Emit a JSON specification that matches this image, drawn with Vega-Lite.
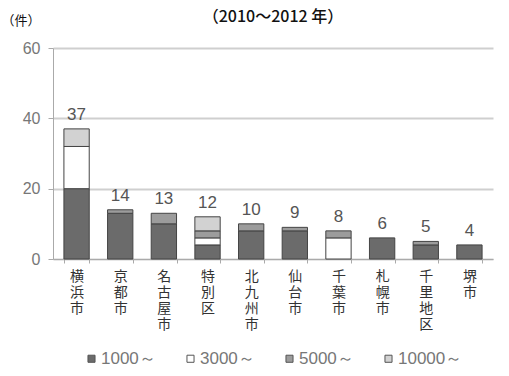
{
  "$schema": "https://vega.github.io/schema/vega-lite/v6.json",
  "autosize": "none",
  "width": 440,
  "height": 211,
  "padding": {"left": 53, "top": 48, "right": 16, "bottom": 117},
  "background": "white",
  "title": {"text": "（2010～2012 年）", "fontSize": 16, "font": "Noto Sans CJK JP", "fontWeight": 500, "color": "#111", "anchor": "middle", "offset": -11},
  "config": {"view": {"stroke": null}, "font": "Noto Sans CJK JP"},
  "data": {"values": [
    {"city": "横浜市", "cat": "1000～", "n": 20, "o": 1},
    {"city": "横浜市", "cat": "3000～", "n": 12, "o": 2},
    {"city": "横浜市", "cat": "5000～", "n": 0, "o": 3},
    {"city": "横浜市", "cat": "10000～", "n": 5, "o": 4},
    {"city": "京都市", "cat": "1000～", "n": 13, "o": 1},
    {"city": "京都市", "cat": "5000～", "n": 1, "o": 3},
    {"city": "名古屋市", "cat": "1000～", "n": 10, "o": 1},
    {"city": "名古屋市", "cat": "5000～", "n": 3, "o": 3},
    {"city": "特別区", "cat": "1000～", "n": 4, "o": 1},
    {"city": "特別区", "cat": "3000～", "n": 2, "o": 2},
    {"city": "特別区", "cat": "5000～", "n": 2, "o": 3},
    {"city": "特別区", "cat": "10000～", "n": 4, "o": 4},
    {"city": "北九州市", "cat": "1000～", "n": 8, "o": 1},
    {"city": "北九州市", "cat": "5000～", "n": 2, "o": 3},
    {"city": "仙台市", "cat": "1000～", "n": 8, "o": 1},
    {"city": "仙台市", "cat": "5000～", "n": 1, "o": 3},
    {"city": "千葉市", "cat": "3000～", "n": 6, "o": 2},
    {"city": "千葉市", "cat": "5000～", "n": 2, "o": 3},
    {"city": "札幌市", "cat": "1000～", "n": 6, "o": 1},
    {"city": "千里地区", "cat": "1000～", "n": 4, "o": 1},
    {"city": "千里地区", "cat": "5000～", "n": 1, "o": 3},
    {"city": "堺市", "cat": "1000～", "n": 4, "o": 1}
  ]},
  "encoding": {
    "x": {"field": "city", "type": "nominal",
      "sort": ["横浜市", "京都市", "名古屋市", "特別区", "北九州市", "仙台市", "千葉市", "札幌市", "千里地区", "堺市"],
      "scale": {"paddingInner": 0.42, "paddingOuter": 0.25},
      "axis": {"title": null, "labelAngle": 0, "labelExpr": "split(datum.label, '')", "labelFontSize": 14, "labelLineHeight": 16, "labelColor": "#333", "labelPadding": 6, "domainColor": "#aaa", "tickColor": "#aaa", "tickBand": "extent", "tickSize": 4}
    }
  },
  "layer": [
    {
      "mark": {"type": "bar", "stroke": "#444", "strokeWidth": 1},
      "encoding": {
        "y": {"field": "n", "type": "quantitative", "aggregate": "sum", "stack": "zero",
          "scale": {"domain": [0, 60]},
          "axis": {"title": "（件）", "titleAngle": 0, "titleX": -52, "titleY": -28, "titleAlign": "left", "titleBaseline": "middle", "titleFontSize": 13, "titleFontWeight": "normal", "titleColor": "#111", "values": [0, 20, 40, 60], "labelFontSize": 16, "labelColor": "#777", "labelFont": "Liberation Sans", "gridColor": "#cfcfcf", "gridWidth": 2, "domainColor": "#aaa", "tickColor": "#aaa", "tickSize": 5, "labelPadding": 8}},
        "color": {"field": "cat", "type": "nominal",
          "scale": {"domain": ["1000～", "3000～", "5000～", "10000～"], "range": ["#6b6b6b", "#ffffff", "#9c9c9c", "#d2d2d2"]},
          "legend": {"title": null, "orient": "none", "direction": "horizontal", "legendX": 30, "legendY": 302, "symbolType": "square", "symbolSize": 50, "symbolStrokeColor": "#555", "symbolStrokeWidth": 1, "labelFontSize": 17, "labelColor": "#777", "labelFont": "Liberation Sans", "columnPadding": 26, "symbolOffset": 0, "labelOffset": 1}},
        "order": {"field": "o", "type": "quantitative"}
      }
    },
    {
      "mark": {"type": "text", "dy": -14, "fontSize": 17, "color": "#555", "font": "Liberation Sans"},
      "encoding": {
        "y": {"field": "n", "type": "quantitative", "aggregate": "sum"},
        "text": {"field": "n", "type": "quantitative", "aggregate": "sum"}
      }
    }
  ]
}
